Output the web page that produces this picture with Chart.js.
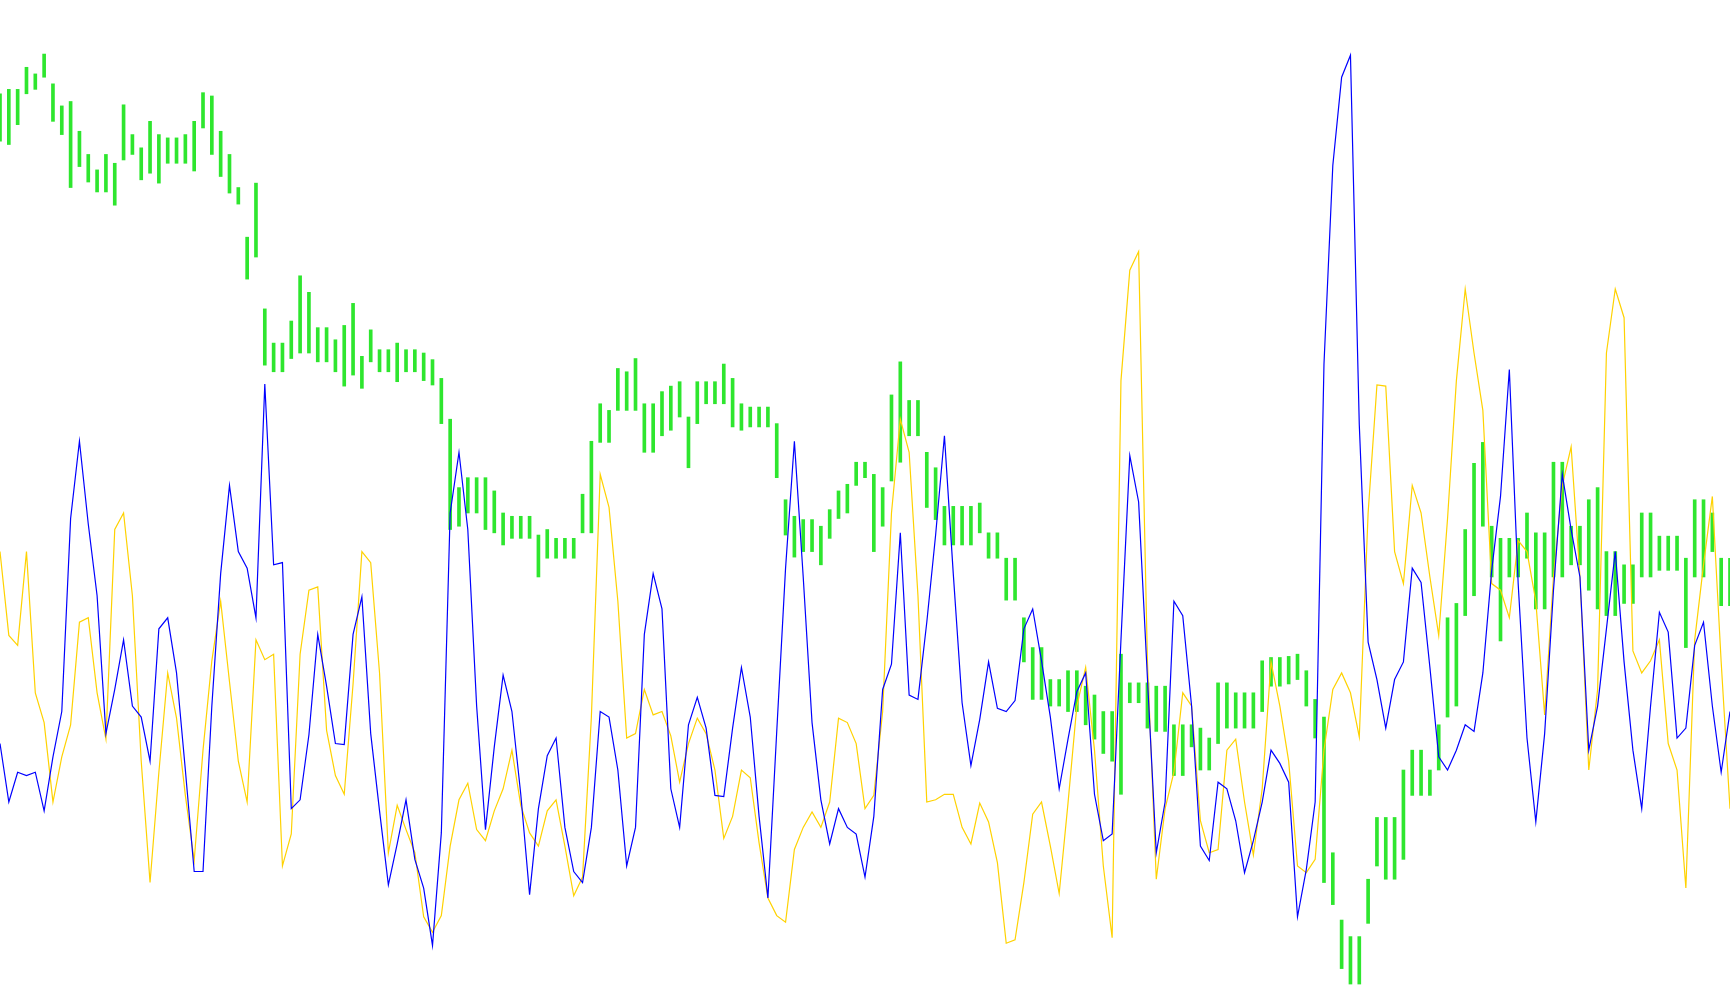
<!DOCTYPE html>
<html>
<head>
<meta charset="utf-8">
<script src="https://cdn.jsdelivr.net/npm/chart.js@4"></script>
<style>
html,body{margin:0;padding:0;background:#ffffff;overflow:hidden;}
#wrap{width:1730px;height:1005px;}
</style>
</head>
<body>
<div id="wrap"><canvas id="c" width="1730" height="1005"></canvas></div>
<script>
// Blue oscillator line
const blueValues = [
237,184,211,208,211,176,225,266,441,511,
436,371,246,286,331,271,261,221,341,351,
301,213,121,121,271,391,471,411,396,351,
563,399,401,178,186,245,336,289,237,236,
336,370,246,176,109,146,186,132,106,54,
156,446,501,431,271,159,234,299,266,191,
100,178,226,242,161,121,111,161,266,261,
213,126,161,336,391,359,196,161,254,279,
251,190,189,251,306,261,171,97,248,396,
511,388,256,186,146,178,161,155,116,171,
286,309,428,281,277,347,426,516,391,274,
217,259,311,269,266,276,341,359,312,261,
196,241,284,301,191,149,155,331,498,456,
296,138,184,366,353,271,144,131,202,196,
167,120,149,184,231,219,202,80,123,184,
581,761,841,861,526,329,295,251,295,311,
396,383,306,225,213,231,254,248,301,394,
461,576,382,242,166,246,376,481,431,388,
231,271,341,411,311,231,178,271,356,338,
242,251,326,347,271,211,266
];
// Yellow oscillator line
const yellowValues = [
411,335,326,411,283,256,184,225,254,347,
351,283,241,431,446,371,221,111,211,301,
260,190,131,231,312,366,293,221,184,331,
313,318,126,155,318,376,379,249,208,191,
291,411,401,301,138,181,159,138,80,66,
81,144,186,201,159,149,176,196,231,181,
156,144,176,186,144,99,116,261,481,451,
366,242,246,286,263,266,244,202,237,260,
246,213,151,171,213,206,147,97,81,75,
141,161,175,161,184,260,256,237,178,190,
266,446,531,501,371,184,186,191,191,161,
146,183,166,129,56,59,111,173,184,144,
101,183,271,306,231,126,61,566,666,683,
311,114,178,211,283,271,167,138,141,231,
241,184,136,196,311,271,221,126,120,132,
231,286,301,283,243,446,562,561,411,382,
471,446,388,335,441,566,649,591,539,382,
376,351,421,411,366,263,388,471,506,388,
213,286,591,649,623,321,301,312,331,237,
213,106,331,399,461,311,178
];
// Green price bars: low and high
const greenLow = [
783,780,798,826,830,841,801,789,741,760,
746,737,737,725,766,771,748,754,745,763,
763,763,756,795,771,751,736,726,658,678,
580,574,574,586,591,591,583,583,574,561,
571,559,583,574,574,565,574,574,566,562,
527,431,434,446,446,431,428,417,423,423,
423,388,405,405,405,405,428,428,510,510,
539,539,539,501,501,516,521,533,487,527,
545,545,545,524,521,524,524,524,478,426,
406,411,411,399,423,441,446,471,478,411,
434,475,492,516,516,451,440,417,417,417,
417,428,405,405,367,367,311,277,277,271,
271,266,266,254,241,228,221,191,274,274,
251,248,248,208,208,234,213,213,237,251,
251,251,251,266,289,289,291,295,271,242,
111,91,33,19,19,74,126,114,114,132,
190,190,190,213,261,271,353,371,434,388,
330,388,388,405,359,359,388,388,399,399,
376,359,353,353,364,364,388,388,394,394,
394,324,388,388,411,362,362
];
const greenHigh = [
826,830,830,850,844,862,835,815,819,792,
771,757,771,763,816,789,777,801,789,786,
786,789,801,827,824,792,771,741,696,745,
631,600,600,620,661,646,614,614,603,616,
636,588,612,594,594,600,594,594,591,585,
568,531,469,478,478,478,466,446,443,443,
443,426,431,423,423,423,463,511,545,539,
577,574,586,545,545,556,561,565,533,565,
565,565,581,568,545,542,542,542,527,458,
443,440,440,434,449,466,472,492,492,481,
469,553,583,548,548,501,487,452,452,452,
452,455,428,428,405,405,351,324,324,295,
295,303,303,289,281,266,266,318,292,292,
292,289,289,254,254,254,251,242,292,292,
283,283,283,312,315,315,316,318,303,277,
261,138,77,62,62,114,170,170,170,213,
231,231,213,254,351,364,431,491,510,434,
423,423,423,446,428,428,492,492,434,434,
458,469,411,411,399,399,446,446,425,425,
425,405,458,458,446,405,405
];
const categories = blueValues.map((_, i) => String(i + 1));
const yMin = 0, yMax = 911;

const greenBars = greenLow.map((l, i) => [l, greenHigh[i]]);

new Chart(document.getElementById('c'), {
  data: {
    labels: categories,
    datasets: [
      {
        type: 'line', label: 'Blue', data: blueValues,
        borderColor: '#0000FF', borderWidth: 1.2,
        pointRadius: 0, tension: 0, fill: false, order: 1
      },
      {
        type: 'line', label: 'Yellow', data: yellowValues,
        borderColor: '#FFD200', borderWidth: 1.2,
        pointRadius: 0, tension: 0, fill: false, order: 2
      },
      {
        type: 'bar', label: 'Price', data: greenBars,
        backgroundColor: '#2EE62E', borderWidth: 0,
        barThickness: 3, order: 3
      }
    ]
  },
  options: {
    responsive: false,
    animation: false,
    devicePixelRatio: 1,
    layout: { padding: 0 },
    plugins: { legend: { display: false }, tooltip: { enabled: false }, title: { display: false } },
    scales: {
      x: { type: 'category', offset: false, display: false, grid: { display: false } },
      y: { min: yMin, max: yMax, display: false, grid: { display: false } }
    }
  }
});
</script>
</body>
</html>
